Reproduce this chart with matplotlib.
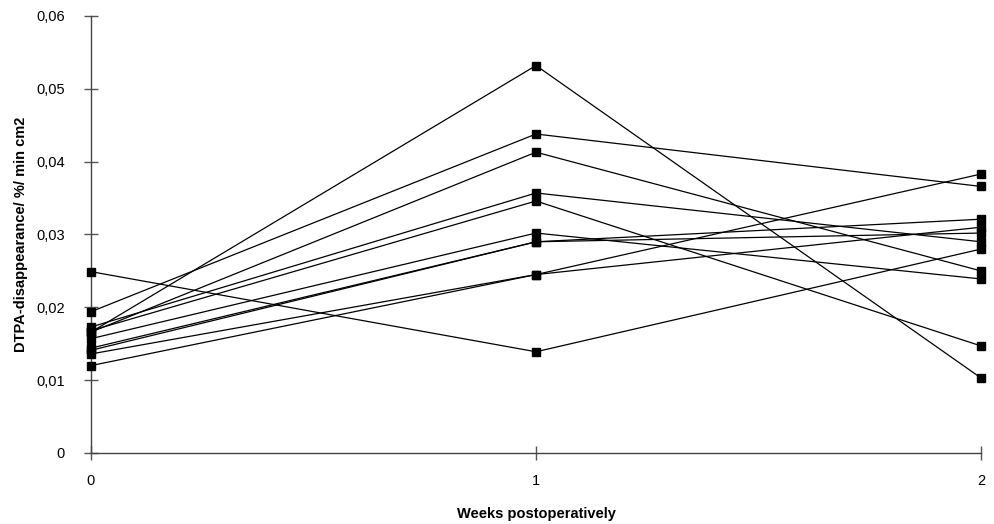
import matplotlib
matplotlib.use("Agg")
import matplotlib.pyplot as plt

weeks = [0, 1, 2]
week_labels = ["0", "1", "2"]
y_ticks = [0, 0.01, 0.02, 0.03, 0.04, 0.05, 0.06]
y_tick_labels = ["0", "0,01", "0,02", "0,03", "0,04", "0,05", "0,06"]

s1 = [0.0249, 0.0139, 0.0280]
s2 = [0.0194, 0.0438, 0.0366]
s3 = [0.0166, 0.0532, 0.0103]
s4 = [0.0166, 0.0413, 0.0250]
s5 = [0.0173, 0.0357, 0.0290]
s6 = [0.0168, 0.0346, 0.0147]
s7 = [0.0157, 0.0302, 0.0239]
s8 = [0.0144, 0.0290, 0.0321]
s9 = [0.0141, 0.0290, 0.0302]
s10 = [0.0136, 0.0245, 0.0383]
s11 = [0.0120, 0.0245, 0.0310]
series = [s1, s2, s3, s4, s5, s6, s7, s8, s9, s10, s11]

plt.rcParams['font.family'] = ['Liberation Sans', 'DejaVu Sans']

fig = plt.figure(figsize=(9.95, 5.24), dpi=100)
ax = fig.add_axes([91/995, 71/524, 890/995, 437/524])

for s in series:
    ax.plot(weeks, s, color='black', lw=0.9, marker='s', markersize=6,
            markerfacecolor='black', markeredgecolor='black', clip_on=False, zorder=3)

ax.set_xlim(0, 2)
ax.set_ylim(0, 0.06)
ax.set_xticks(weeks)
ax.set_xticklabels(week_labels)
ax.set_yticks(y_ticks)
ax.set_yticklabels(y_tick_labels)

for side in ['top', 'right']:
    ax.spines[side].set_visible(False)
for side in ['left', 'bottom']:
    ax.spines[side].set_color('#444444')
    ax.spines[side].set_linewidth(1.0)

ax.tick_params(axis='both', direction='inout', length=10, width=1.0, color='#555555',
               labelsize=10.5)
ax.tick_params(axis='y', pad=14)
ax.tick_params(axis='x', pad=10)

ax.set_xlabel("Weeks postoperatively", fontsize=10.5, fontweight='bold', labelpad=14)
ax.set_ylabel("DTPA-disappearance/ %/ min cm2", fontsize=10.5, fontweight='bold')
ax.yaxis.set_label_coords(-63/890, 0.5)

fig.savefig("out.png", dpi=100)
